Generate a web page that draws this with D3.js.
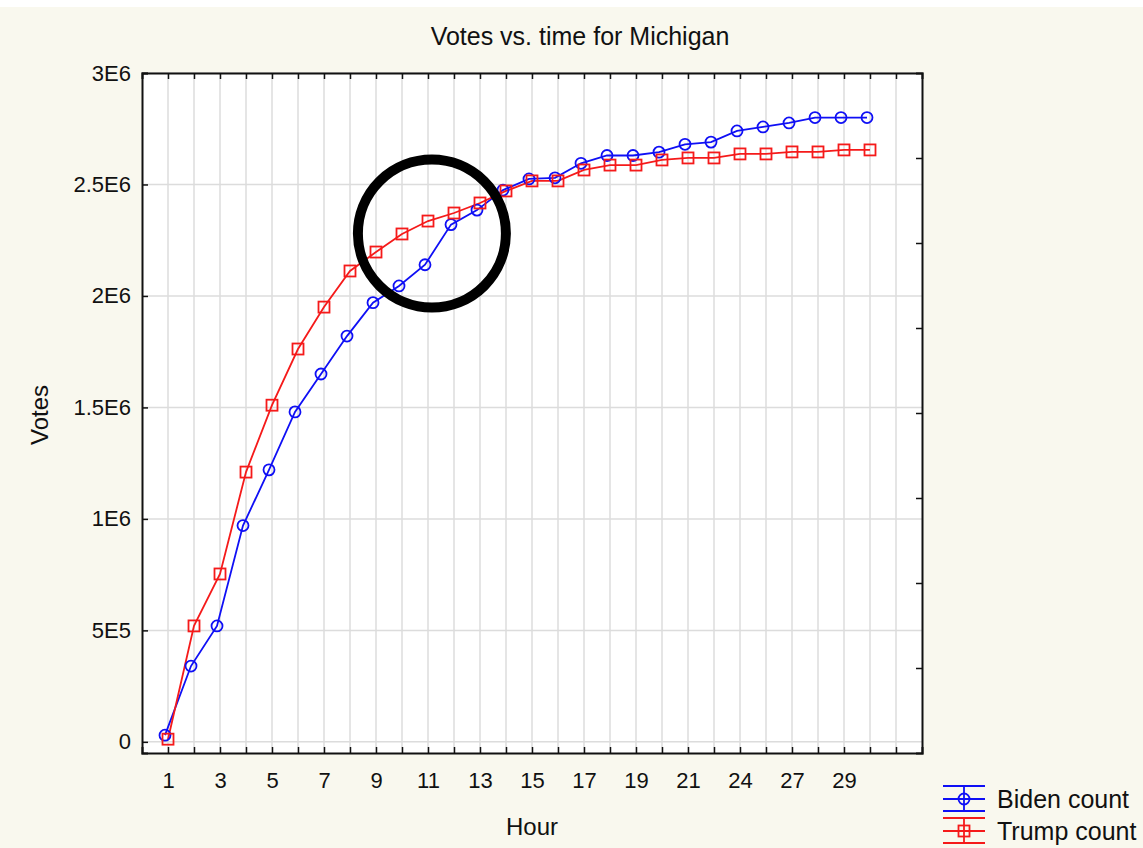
<!DOCTYPE html>
<html>
<head>
<meta charset="utf-8">
<script src="https://cdn.jsdelivr.net/npm/d3@7"></script>
<style>
  body { margin: 0; background: #fff; }
  text { font-family: "Liberation Sans", Arial, sans-serif; fill: #111; }
</style>
</head>
<body>
<svg id="chart"></svg>
<script>
// hour labels, one per data point
var hours = [1, 2, 3, 4, 5, 6, 7, 8, 9, 10, 11, 12, 13, 14, 15, 16, 17, 18, 19, 20, 21, 22, 24, 25, 27, 28, 29, 30];

var biden = [30000, 340000, 520000, 970000, 1220000, 1480000, 1650000, 1820000, 1970000, 2045000,
  2140000, 2320000, 2385000, 2475000, 2525000, 2530000, 2595000, 2630000, 2630000, 2645000,
  2680000, 2690000, 2740000, 2758000, 2776000, 2800000, 2800000, 2800000];

var trump = [12000, 520000, 753000, 1210000, 1510000, 1762000, 1950000, 2112000, 2197000, 2278000,
  2336000, 2372000, 2417000, 2471000, 2516000, 2516000, 2565000, 2587000, 2587000, 2610000,
  2619000, 2619000, 2637000, 2637000, 2646000, 2646000, 2655000, 2655000];

var yTicks = [0, 500000, 1000000, 1500000, 2000000, 2500000, 3000000];
var yTickLabels = ["0", "5E5", "1E6", "1.5E6", "2E6", "2.5E6", "3E6"];

var W = 1143, H = 848;
var pLeft = 142, pRight = 922, pTop = 73, pBottom = 753;

var svg = d3.select("#chart")
  .attr("width", W)
  .attr("height", H);

// cream page
svg.append("rect").attr("x", 0).attr("y", 7).attr("width", W).attr("height", H - 7).attr("fill", "#f9f8ee");
svg.append("rect").attr("x", pLeft).attr("y", pTop).attr("width", pRight - pLeft).attr("height", pBottom - pTop).attr("fill", "#fff");

var x = d3.scaleLinear().domain([0, 30]).range([pLeft, pRight]);
var y = d3.scaleLinear().domain([-50000, 3000000]).range([pBottom, pTop]);
var yRight = d3.scaleLinear().domain([0, 8]).range([pBottom, pTop]); // unlabeled right ticks

var xTicks = d3.range(1, 30);

// grid
svg.append("g").selectAll("line")
  .data(xTicks).enter().append("line")
  .attr("x1", d => x(d)).attr("x2", d => x(d))
  .attr("y1", pTop).attr("y2", pBottom)
  .attr("stroke", "#dcdcdc").attr("stroke-width", 1.5);

svg.append("g").selectAll("line")
  .data(yTicks).enter().append("line")
  .attr("x1", pLeft).attr("x2", pRight)
  .attr("y1", d => y(d)).attr("y2", d => y(d))
  .attr("stroke", "#dcdcdc").attr("stroke-width", 1.5);

// axes
svg.append("g")
  .attr("transform", "translate(" + pLeft + ",0)")
  .call(d3.axisLeft(y).tickValues(yTicks).tickSize(-6).tickPadding(11)
    .tickFormat((d, i) => yTickLabels[i]));

svg.append("g")
  .attr("transform", "translate(0," + pBottom + ")")
  .call(d3.axisBottom(x).tickValues(xTicks).tickSize(-6).tickPadding(19)
    .tickFormat(d => (d % 2 == 1 && d <= hours.length) ? hours[d - 1] : ""));

svg.append("g")
  .attr("transform", "translate(0," + pTop + ")")
  .call(d3.axisTop(x).tickValues(xTicks).tickSize(-6).tickFormat(""));

svg.append("g")
  .attr("transform", "translate(" + pRight + ",0)")
  .call(d3.axisRight(yRight).tickValues(d3.range(1, 8)).tickSize(-6).tickFormat(""));

svg.selectAll(".domain").attr("stroke", "#111").attr("stroke-width", 2);
svg.selectAll(".tick line").attr("stroke", "#111").attr("stroke-width", 1.5);
svg.selectAll(".tick text").style("font-family", "Liberation Sans, Arial, sans-serif").style("font-size", "22px").attr("fill", "#111");

// series
var line = d3.line()
  .x((d, i) => x(i + 1))
  .y(d => y(d));

var bidenColor = "#0f0ff5", trumpColor = "#f51a1a";

svg.append("path")
  .datum(biden)
  .attr("fill", "none")
  .attr("stroke", bidenColor)
  .attr("stroke-width", 1.8)
  .attr("transform", "translate(-3,0)")
  .attr("d", line);

svg.append("path")
  .datum(trump)
  .attr("fill", "none")
  .attr("stroke", trumpColor)
  .attr("stroke-width", 1.8)
  .attr("d", line);

svg.append("g").attr("transform", "translate(-3,0)")
  .selectAll("circle")
  .data(biden).enter().append("circle")
  .attr("cx", (d, i) => x(i + 1))
  .attr("cy", d => y(d))
  .attr("r", 5.5)
  .attr("fill", "none")
  .attr("stroke", bidenColor)
  .attr("stroke-width", 1.8);

svg.append("g").selectAll("rect")
  .data(trump).enter().append("rect")
  .attr("x", (d, i) => x(i + 1) - 5.5)
  .attr("y", d => y(d) - 5.5)
  .attr("width", 11)
  .attr("height", 11)
  .attr("fill", "none")
  .attr("stroke", trumpColor)
  .attr("stroke-width", 1.8);

// hand drawn annotation circle
svg.append("circle")
  .attr("cx", x(11.15))
  .attr("cy", y(2280000))
  .attr("r", 74)
  .attr("fill", "none")
  .attr("stroke", "#000")
  .attr("stroke-width", 10);

// titles
svg.append("text")
  .attr("x", 580).attr("y", 45)
  .style("text-anchor", "middle")
  .style("font-size", "25px")
  .text("Votes vs. time for Michigan");

svg.append("text")
  .attr("x", (pLeft + pRight) / 2).attr("y", 835)
  .style("text-anchor", "middle")
  .style("font-size", "24px")
  .text("Hour");

svg.append("text")
  .attr("transform", "rotate(-90)")
  .attr("x", -415).attr("y", 48)
  .style("text-anchor", "middle")
  .style("font-size", "24px")
  .text("Votes");

// legend
var legend = [
  { label: "Biden count", color: bidenColor, shape: "circle", y: 799 },
  { label: "Trump count", color: trumpColor, shape: "square", y: 831 }
];

var lg = svg.append("g").selectAll("g").data(legend).enter().append("g")
  .attr("transform", d => "translate(964," + d.y + ")");

[-13, 0, 12].forEach(dy => {
  lg.append("line").attr("x1", -21).attr("x2", 21).attr("y1", dy).attr("y2", dy)
    .attr("stroke", d => d.color).attr("stroke-width", 1.8);
});
lg.append("line").attr("x1", 0).attr("x2", 0).attr("y1", -13).attr("y2", 12)
  .attr("stroke", d => d.color).attr("stroke-width", 1.8);
lg.filter(d => d.shape == "circle").append("circle").attr("r", 5.5)
  .attr("fill", "none").attr("stroke", d => d.color).attr("stroke-width", 1.8);
lg.filter(d => d.shape == "square").append("rect").attr("x", -5.5).attr("y", -5.5).attr("width", 11).attr("height", 11)
  .attr("fill", "none").attr("stroke", d => d.color).attr("stroke-width", 1.8);
lg.append("text").attr("x", 33).attr("y", 9).style("font-size", "25px").text(d => d.label);
</script>
</body>
</html>
